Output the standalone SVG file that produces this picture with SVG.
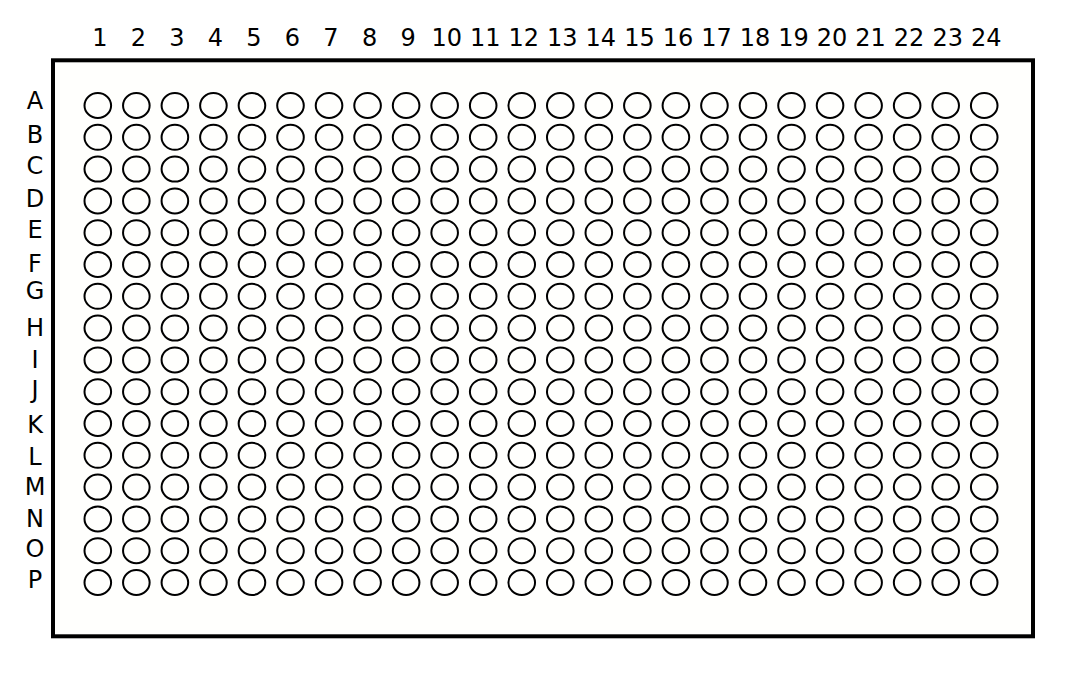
<svg xmlns="http://www.w3.org/2000/svg" xmlns:xlink="http://www.w3.org/1999/xlink" width="1067" height="684" viewBox="0 0 1067 684">
<style>
.lbl{font-family:"DejaVu Sans","Liberation Sans",sans-serif;font-size:24px;fill:#000;text-anchor:middle}
.well{fill:none;stroke:#000;stroke-width:2}
.frame{fill:#fffffd;stroke:#000;stroke-width:4}
</style>
<defs>
<g id="wellrow">
<ellipse class="well" cx="97.8" cy="0" rx="13.3" ry="12.5"/>
<ellipse class="well" cx="136.34" cy="0" rx="13.3" ry="12.5"/>
<ellipse class="well" cx="174.88" cy="0" rx="13.3" ry="12.5"/>
<ellipse class="well" cx="213.42" cy="0" rx="13.3" ry="12.5"/>
<ellipse class="well" cx="251.96" cy="0" rx="13.3" ry="12.5"/>
<ellipse class="well" cx="290.5" cy="0" rx="13.3" ry="12.5"/>
<ellipse class="well" cx="329.04" cy="0" rx="13.3" ry="12.5"/>
<ellipse class="well" cx="367.58" cy="0" rx="13.3" ry="12.5"/>
<ellipse class="well" cx="406.12" cy="0" rx="13.3" ry="12.5"/>
<ellipse class="well" cx="444.66" cy="0" rx="13.3" ry="12.5"/>
<ellipse class="well" cx="483.2" cy="0" rx="13.3" ry="12.5"/>
<ellipse class="well" cx="521.74" cy="0" rx="13.3" ry="12.5"/>
<ellipse class="well" cx="560.28" cy="0" rx="13.3" ry="12.5"/>
<ellipse class="well" cx="598.82" cy="0" rx="13.3" ry="12.5"/>
<ellipse class="well" cx="637.36" cy="0" rx="13.3" ry="12.5"/>
<ellipse class="well" cx="675.9" cy="0" rx="13.3" ry="12.5"/>
<ellipse class="well" cx="714.44" cy="0" rx="13.3" ry="12.5"/>
<ellipse class="well" cx="752.98" cy="0" rx="13.3" ry="12.5"/>
<ellipse class="well" cx="791.52" cy="0" rx="13.3" ry="12.5"/>
<ellipse class="well" cx="830.06" cy="0" rx="13.3" ry="12.5"/>
<ellipse class="well" cx="868.6" cy="0" rx="13.3" ry="12.5"/>
<ellipse class="well" cx="907.14" cy="0" rx="13.3" ry="12.5"/>
<ellipse class="well" cx="945.68" cy="0" rx="13.3" ry="12.5"/>
<ellipse class="well" cx="984.22" cy="0" rx="13.3" ry="12.5"/>
</g>
</defs>
<rect width="1067" height="684" fill="#ffffff"/>
<g id="plate">
<rect class="frame" x="53" y="60.3" width="980" height="576"/>
</g>
<g id="wells">
<use id="row-A" href="#wellrow" xlink:href="#wellrow" y="105.5"/>
<use id="row-B" href="#wellrow" xlink:href="#wellrow" y="137.3"/>
<use id="row-C" href="#wellrow" xlink:href="#wellrow" y="169.1"/>
<use id="row-D" href="#wellrow" xlink:href="#wellrow" y="200.9"/>
<use id="row-E" href="#wellrow" xlink:href="#wellrow" y="232.7"/>
<use id="row-F" href="#wellrow" xlink:href="#wellrow" y="264.5"/>
<use id="row-G" href="#wellrow" xlink:href="#wellrow" y="296.3"/>
<use id="row-H" href="#wellrow" xlink:href="#wellrow" y="328.1"/>
<use id="row-I" href="#wellrow" xlink:href="#wellrow" y="359.9"/>
<use id="row-J" href="#wellrow" xlink:href="#wellrow" y="391.7"/>
<use id="row-K" href="#wellrow" xlink:href="#wellrow" y="423.5"/>
<use id="row-L" href="#wellrow" xlink:href="#wellrow" y="455.3"/>
<use id="row-M" href="#wellrow" xlink:href="#wellrow" y="487.1"/>
<use id="row-N" href="#wellrow" xlink:href="#wellrow" y="518.9"/>
<use id="row-O" href="#wellrow" xlink:href="#wellrow" y="550.7"/>
<use id="row-P" href="#wellrow" xlink:href="#wellrow" y="582.5"/>
</g>
<g id="column-labels">
<text class="lbl" x="99.8" y="46">1</text>
<text class="lbl" x="138.3" y="46">2</text>
<text class="lbl" x="176.9" y="46">3</text>
<text class="lbl" x="215.4" y="46">4</text>
<text class="lbl" x="254" y="46">5</text>
<text class="lbl" x="292.5" y="46">6</text>
<text class="lbl" x="331" y="46">7</text>
<text class="lbl" x="369.6" y="46">8</text>
<text class="lbl" x="408.1" y="46">9</text>
<text class="lbl" x="446.7" y="46">10</text>
<text class="lbl" x="485.2" y="46">11</text>
<text class="lbl" x="523.7" y="46">12</text>
<text class="lbl" x="562.3" y="46">13</text>
<text class="lbl" x="600.8" y="46">14</text>
<text class="lbl" x="639.4" y="46">15</text>
<text class="lbl" x="677.9" y="46">16</text>
<text class="lbl" x="716.4" y="46">17</text>
<text class="lbl" x="755" y="46">18</text>
<text class="lbl" x="793.5" y="46">19</text>
<text class="lbl" x="832.1" y="46">20</text>
<text class="lbl" x="870.6" y="46">21</text>
<text class="lbl" x="909.1" y="46">22</text>
<text class="lbl" x="947.7" y="46">23</text>
<text class="lbl" x="986.2" y="46">24</text>
</g>
<g id="row-labels">
<text class="lbl" x="35" y="109">A</text>
<text class="lbl" x="35" y="143">B</text>
<text class="lbl" x="35" y="174">C</text>
<text class="lbl" x="35" y="207">D</text>
<text class="lbl" x="35" y="238">E</text>
<text class="lbl" x="35" y="272">F</text>
<text class="lbl" x="35" y="298.5">G</text>
<text class="lbl" x="35" y="336">H</text>
<text class="lbl" x="35" y="368">I</text>
<text class="lbl" x="35" y="397.5">J</text>
<text class="lbl" x="35" y="433">K</text>
<text class="lbl" x="35" y="465">L</text>
<text class="lbl" x="35" y="495">M</text>
<text class="lbl" x="35" y="527">N</text>
<text class="lbl" x="35" y="557">O</text>
<text class="lbl" x="35" y="588">P</text>
</g>
</svg>
